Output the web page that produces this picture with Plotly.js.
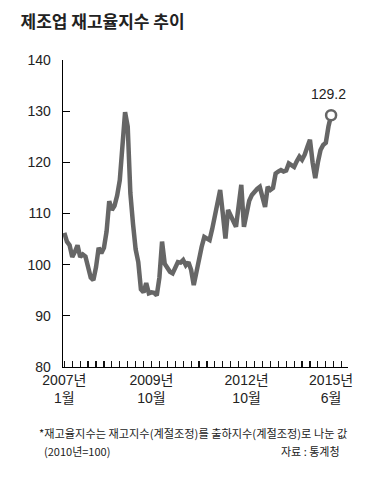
<!DOCTYPE html>
<html><head><meta charset="utf-8">
<script src="https://cdn.plot.ly/plotly-3.0.1.min.js"></script>
<style>body{margin:0;background:#fff}#c{width:373px;height:490px}</style>
</head><body><div id="c"></div>
<script>
// months since 2007-01 (0 = 2007년 1월, 101 = 2015년 6월)
const months = Array.from({length: 102}, (_, i) => i);
const inventoryRatio = [
  106.2,104.5,103.8,101.5,102.5,103.8,101.5,102.0,101.6,99.5,97.5,97.0,
  99.5,103.3,102.2,103.3,106.5,112.4,110.7,111.5,113.5,116.5,124.0,129.8,
  127.0,114.0,108.0,103.0,100.5,95.2,94.6,96.4,94.4,94.6,94.5,94.0,
  97.5,104.5,100.2,99.5,98.6,98.3,99.3,100.5,100.4,100.9,99.9,100.5,
  99.0,96.0,98.5,101.5,103.5,105.4,105.0,104.8,107.0,109.4,112.0,114.6,
  110.0,105.1,110.7,109.8,108.5,107.4,111.0,115.6,107.4,110.5,112.5,113.6,
  114.3,114.8,115.2,113.5,111.3,115.2,114.6,115.0,117.8,118.2,118.5,118.2,
  118.4,119.8,119.3,119.1,120.2,121.1,120.5,121.5,123.0,124.4,120.0,116.9,
  120.0,122.4,123.4,123.8,127.0,129.2
];
const xTickVals = [0, 33, 69, 101];
const xTickText = ['2007년<br>1월', '2009년<br>10월', '2012년<br>10월', '2015년<br>6월'];
const yTickVals = [80, 90, 100, 110, 120, 130, 140];
const lastLabel = '129.2';

const lastIdx = months.length - 1;
const font = 'Liberation Sans, Arial, Noto Sans CJK KR, sans-serif';
const xRange = [-0.5, 107.4];
const traces = [
  {x: months, y: inventoryRatio, type: 'scatter', mode: 'lines', xaxis: 'x', yaxis: 'y',
   line: {color: '#666666', width: 4.5}, hoverinfo: 'skip'},
  {x: [months[lastIdx]], y: [inventoryRatio[lastIdx]], type: 'scatter', mode: 'markers', xaxis: 'x2', yaxis: 'y',
   marker: {size: 10, color: '#ffffff', line: {color: '#666666', width: 2.5}}, hoverinfo: 'skip'}
];
const layout = {
  width: 373, height: 490,
  margin: {l: 63, r: 25, t: 60, b: 123},
  paper_bgcolor: '#fff', plot_bgcolor: '#fff',
  showlegend: false,
  font: {family: font, color: '#222', size: 14},
  title: {text: '<b>제조업 재고율지수 추이</b>', x: 0.055, xanchor: 'left', y: 0.955, yanchor: 'middle',
          font: {family: 'Noto Sans CJK KR, sans-serif', size: 17, color: '#222'}},
  // quarterly tick comb on the baseline
  xaxis: {range: xRange, showgrid: false, zeroline: false,
          showline: true, linecolor: '#000', linewidth: 1.3,
          tickmode: 'linear', tick0: 0, dtick: 3,
          ticks: 'inside', ticklen: 6, tickcolor: '#111', tickwidth: 1.2,
          showticklabels: false},
  // labels
  xaxis2: {range: xRange, overlaying: 'x', side: 'bottom', anchor: 'y',
           showgrid: false, zeroline: false, showline: false, ticks: '',
           tickmode: 'array', tickvals: xTickVals, ticktext: xTickText,
           tickfont: {family: font, size: 14, color: '#222'}, ticklabelstandoff: 3},
  yaxis: {range: [80, 140], showgrid: false, zeroline: false,
          showline: true, linecolor: '#000', linewidth: 1.3,
          tickmode: 'array', tickvals: yTickVals,
          ticks: 'inside', ticklen: 7, tickcolor: '#000', tickwidth: 1.2,
          tickfont: {family: font, size: 14, color: '#222'}, ticklabelstandoff: 8},
  annotations: [
    {x: months[lastIdx], y: inventoryRatio[lastIdx], text: lastLabel, showarrow: false,
     xref: 'x', yref: 'y', yshift: 21, xshift: -3, font: {family: font, size: 14, color: '#222'}},
    {xref: 'paper', yref: 'paper', x: -0.09, y: -0.215, xanchor: 'left', yanchor: 'middle', showarrow: false,
     text: '*재고율지수는 재고지수(계절조정)를 출하지수(계절조정)로 나눈 값',
     font: {family: 'Noto Sans CJK KR, sans-serif', size: 11.2, color: '#222'}},
    {xref: 'paper', yref: 'paper', x: -0.075, y: -0.275, xanchor: 'left', yanchor: 'middle', showarrow: false,
     text: '(2010년=100)', font: {family: 'Noto Sans CJK KR, sans-serif', size: 11, color: '#222'}},
    {xref: 'paper', yref: 'paper', x: 0.98, y: -0.275, xanchor: 'right', yanchor: 'middle', showarrow: false,
     text: '자료 : 통계청', font: {family: 'Noto Sans CJK KR, sans-serif', size: 11, color: '#222'}}
  ]
};
Plotly.newPlot('c', traces, layout, {displayModeBar: false, staticPlot: true});
</script></body></html>
